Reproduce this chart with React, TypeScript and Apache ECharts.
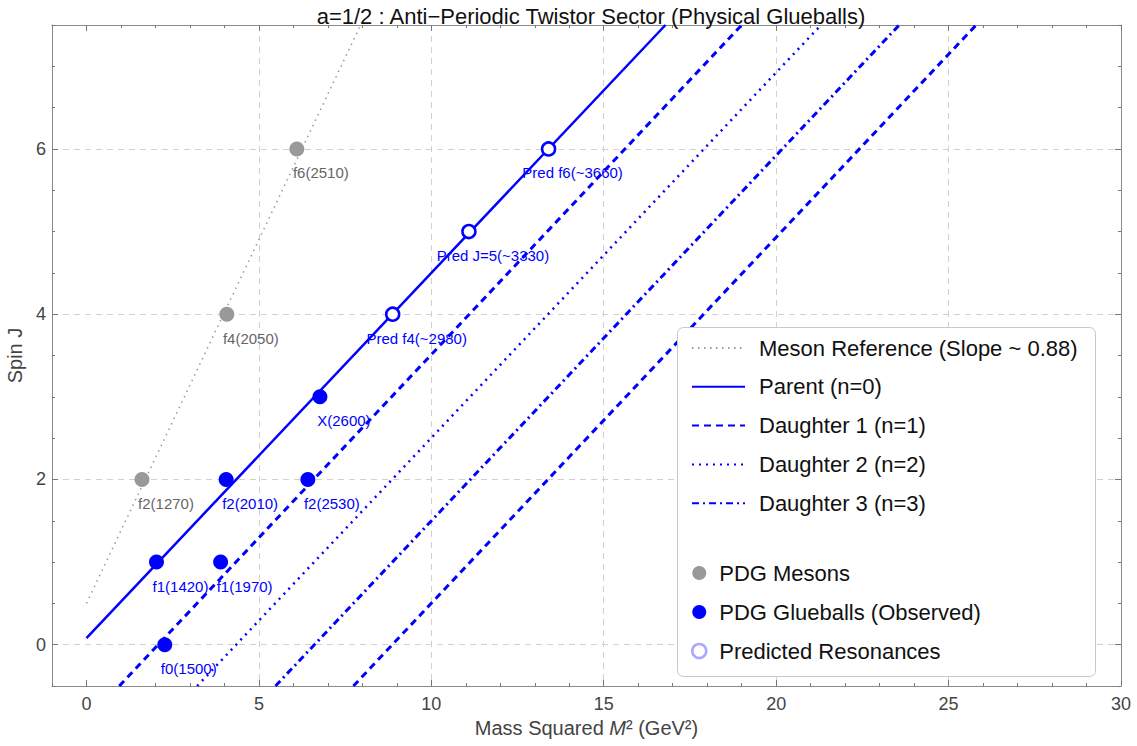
import React, { useEffect, useRef } from 'react';
import * as echarts from 'echarts';

const FONT = '"Liberation Sans", Arial, Helvetica, sans-serif';
const BLUE = '#0000ff';
const GRAY = '#999999';

// axis ticks
const xMajorTicks = [0, 5, 10, 15, 20, 25, 30];
const xGridLines = [5, 10, 15, 20, 25];
const yMajorTicks = [0, 2, 4, 6];

// PDG mesons (gray)
const mesonLabels = ['f2(1270)', 'f4(2050)', 'f6(2510)'];
const mesonM2 = [1.61, 4.07, 6.1];
const mesonJ = [2, 4, 6];

// PDG glueballs (observed)
const glueLabels = ['f0(1500)', 'f1(1420)', 'f1(1970)', 'f2(2010)', 'f2(2530)', 'X(2600)'];
const glueM2 = [2.27, 2.03, 3.89, 4.05, 6.42, 6.77];
const glueJ = [0, 1, 1, 2, 2, 3];

// Predicted resonances
const predLabels = ['Pred f4(~2980)', 'Pred J=5(~3330)', 'Pred f6(~3660)'];
const predM2 = [8.88, 11.09, 13.4];
const predJ = [4, 5, 6];

// trajectory end points (M^2, J)
const mesonLine = [[0, 0.5], [7.95, 7.5]];
const parentLine = [[0, 0.08], [16.79, 7.5]];
const daughter1Line = [[0.95, -0.5], [19.0, 7.5]];
const daughter2Line = [[3.21, -0.5], [21.3, 7.5]];
const daughter3Line = [[5.48, -0.5], [23.57, 7.5]];
const daughter4Line = [[7.74, -0.5], [25.8, 7.5]];

const lineNames = [
  'Meson Reference (Slope ~ 0.88)',
  'Parent (n=0)',
  'Daughter 1 (n=1)',
  'Daughter 2 (n=2)',
  'Daughter 3 (n=3)',
];

const TITLE = 'a=1/2 : Anti\u2212Periodic Twistor Sector (Physical Glueballs)';

function points(labels: string[], xs: number[], ys: number[]) {
  return labels.map((n, i) => ({ name: n, value: [xs[i], ys[i]] }));
}

const frameColor = '#8a8a8a';
const tickColor = '#777';

function xAxisDef(position: string, major: boolean, withLabels: boolean): any {
  const a: any = {
    type: 'value', min: -1, max: 30, position,
    axisLine: { show: major, onZero: false, lineStyle: { color: frameColor, width: 1 } },
    splitLine: { show: false },
  };
  if (major) {
    a.axisTick = { show: true, inside: true, length: 6, customValues: xMajorTicks, lineStyle: { color: tickColor } };
    a.axisLabel = withLabels
      ? { show: true, customValues: xMajorTicks, margin: 9, fontSize: 18, color: '#444', fontFamily: FONT }
      : { show: false, customValues: xMajorTicks };
  } else {
    a.interval = 1;
    a.axisTick = { show: true, inside: true, length: 3, lineStyle: { color: tickColor } };
    a.axisLabel = { show: false };
  }
  return a;
}

function yAxisDef(position: string, major: boolean, withLabels: boolean): any {
  const a: any = {
    type: 'value', min: -0.5, max: 7.5, position,
    axisLine: { show: major, onZero: false, lineStyle: { color: frameColor, width: 1 } },
    splitLine: { show: false },
  };
  if (major) {
    a.axisTick = { show: true, inside: true, length: 6, customValues: yMajorTicks, lineStyle: { color: tickColor } };
    a.axisLabel = withLabels
      ? { show: true, customValues: yMajorTicks, margin: 6, fontSize: 18, color: '#444', fontFamily: FONT }
      : { show: false, customValues: yMajorTicks };
  } else {
    a.interval = 0.5;
    a.axisTick = { show: true, inside: true, length: 3, lineStyle: { color: tickColor } };
    a.axisLabel = { show: false };
  }
  return a;
}

function lineSeries(name: string, data: number[][], color: string, width: number, type: any) {
  return {
    name, type: 'line', data, xAxisIndex: 0, yAxisIndex: 0,
    symbol: 'none', showSymbol: false, silent: true,
    lineStyle: { color, width, type },
    itemStyle: { color },
    z: 2,
  };
}

function scatterLabel(color: string) {
  return {
    show: true, position: 'inside', offset: [24, 24], formatter: '{b}',
    color, fontSize: 15, fontFamily: FONT,
  };
}

export default function App() {
  const ref = useRef<HTMLDivElement>(null);
  useEffect(() => {
    if (!ref.current) return;
    const chart = echarts.init(ref.current, undefined, { renderer: 'svg' });

    const xAxes = [
      xAxisDef('bottom', true, true),
      xAxisDef('bottom', false, false),
      xAxisDef('top', true, false),
      xAxisDef('top', false, false),
      {
        type: 'value', min: -1, max: 30, position: 'bottom',
        axisLine: { show: false, onZero: false },
        axisTick: { show: false, customValues: xGridLines },
        axisLabel: { show: false, customValues: xGridLines },
        splitLine: { show: true, lineStyle: { color: '#d0d0d0', width: 1, type: [6, 5] } },
      },
    ];
    xAxes[0].name = 'Mass Squared {i|M}\u00b2 (GeV\u00b2)';
    xAxes[0].nameLocation = 'middle';
    xAxes[0].nameGap = 27;
    xAxes[0].nameTextStyle = {
      fontSize: 20, color: '#444', fontFamily: FONT,
      rich: { i: { fontSize: 20, fontStyle: 'italic', color: '#444', fontFamily: FONT } },
    };

    const yAxes = [
      yAxisDef('left', true, true),
      yAxisDef('left', false, false),
      yAxisDef('right', true, false),
      yAxisDef('right', false, false),
    ];
    yAxes[0].splitLine = { show: true, lineStyle: { color: '#d0d0d0', width: 1, type: [6, 5] } };
    yAxes[0].name = 'Spin J';
    yAxes[0].nameLocation = 'middle';
    yAxes[0].nameGap = 25;
    yAxes[0].nameRotate = 90;
    yAxes[0].nameTextStyle = { fontSize: 20, color: '#444', fontFamily: FONT };

    const legendText = { fontSize: 22, color: '#111', fontFamily: FONT, lineHeight: 24 };

    const option: any = {
      animation: false,
      backgroundColor: '#ffffff',
      title: {
        text: TITLE, left: 586, top: 0, textAlign: 'center',
        textStyle: { fontSize: 22, fontWeight: 'normal', color: '#111', fontFamily: FONT },
      },
      grid: { left: 52, top: 25, right: 16, bottom: 60, containLabel: false, outerBoundsMode: 'none' },
      xAxis: xAxes,
      yAxis: yAxes,
      legend: [
        {
          orient: 'vertical', left: 691, top: 336, padding: 0,
          itemWidth: 53, itemHeight: 14, itemGap: 14.8,
          selectedMode: false, z: 100,
          itemStyle: { opacity: 0 },
          data: lineNames,
          textStyle: { ...legendText, padding: [0, 0, 0, 9] },
        },
        {
          orient: 'vertical', left: 691, top: 561, padding: 0,
          itemWidth: 14, itemHeight: 14, itemGap: 15, icon: 'circle',
          selectedMode: false, z: 100,
          data: [
            { name: 'PDG Mesons' },
            { name: 'PDG Glueballs (Observed)' },
            { name: 'Predicted Resonances', itemStyle: { color: '#ffffff', borderColor: '#a8a8ff', borderWidth: 2.5 } },
          ],
          textStyle: { ...legendText, padding: [0, 0, 0, 8] },
        },
      ],
      graphic: [
        {
          type: 'rect', left: 677, top: 327, z: 90,
          shape: { width: 418, height: 349, r: 6 },
          style: { fill: '#ffffff', stroke: '#c8c8c8', lineWidth: 1 },
        },
      ],
      series: [
        lineSeries(lineNames[0], mesonLine, GRAY, 1.5, [1.5, 4.5]),
        lineSeries(lineNames[1], parentLine, BLUE, 2.5, 'solid'),
        lineSeries(lineNames[2], daughter1Line, BLUE, 3, [7, 5]),
        lineSeries(lineNames[3], daughter2Line, BLUE, 2.5, [2, 5]),
        lineSeries(lineNames[4], daughter3Line, BLUE, 3, [7, 4, 2, 4]),
        lineSeries('Daughter 4 (n=4)', daughter4Line, BLUE, 3, [7, 5]),
        {
          name: 'PDG Mesons', type: 'scatter', xAxisIndex: 0, yAxisIndex: 0,
          data: points(mesonLabels, mesonM2, mesonJ),
          symbol: 'circle', symbolSize: 15,
          itemStyle: { color: GRAY, opacity: 1 },
          label: scatterLabel('#666666'), z: 5,
        },
        {
          name: 'PDG Glueballs (Observed)', type: 'scatter', xAxisIndex: 0, yAxisIndex: 0,
          data: points(glueLabels, glueM2, glueJ),
          symbol: 'circle', symbolSize: 15,
          itemStyle: { color: BLUE, opacity: 1 },
          label: scatterLabel(BLUE), z: 5,
        },
        {
          name: 'Predicted Resonances', type: 'scatter', xAxisIndex: 0, yAxisIndex: 0,
          data: points(predLabels, predM2, predJ),
          symbol: 'circle', symbolSize: 13,
          itemStyle: { color: '#ffffff', borderColor: BLUE, borderWidth: 2.5, opacity: 1 },
          label: scatterLabel(BLUE), z: 5,
        },
      ],
    };
    chart.setOption(option);
    return () => chart.dispose();
  }, []);
  return (
    <div
      ref={ref}
      style={{ position: 'fixed', left: 0, top: 0, width: 1137, height: 746, background: '#fff' }}
    />
  );
}
